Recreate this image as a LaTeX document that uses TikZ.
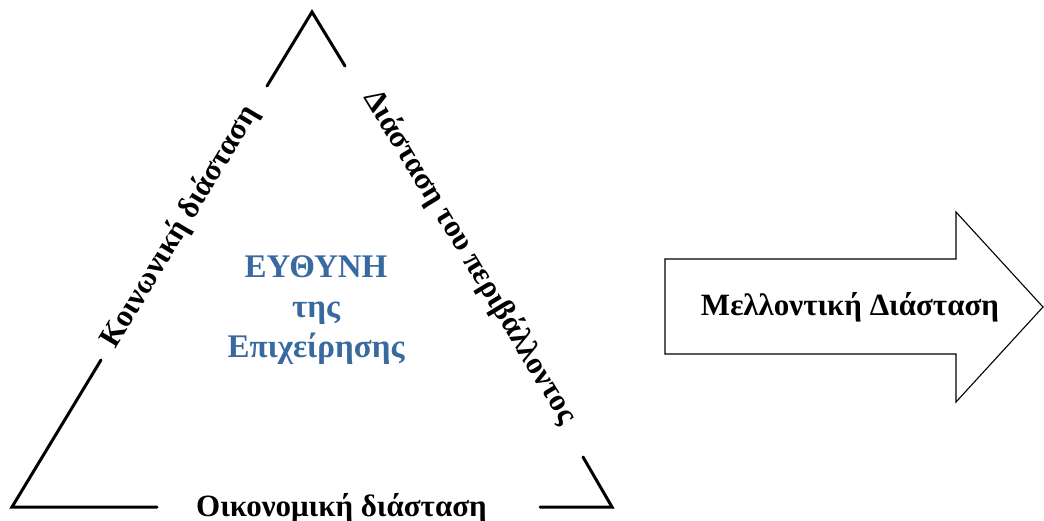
\documentclass[tikz,border=0pt]{standalone}
\usepackage{fontspec}
\setmainfont{Liberation Serif}
\definecolor{blueresp}{RGB}{56,106,160}
\begin{document}
\begin{tikzpicture}[x=1pt,y=1pt,
  side/.style={line width=3pt,line cap=round,line join=miter},
  lbl/.style={font=\fontsize{31}{36}\selectfont\bfseries,inner sep=0pt},
  centre/.style={font=\fontsize{33}{40}\selectfont\bfseries,text=blueresp,align=center,inner sep=0pt},
  arrowshape/.style={draw,line width=1.1pt,line join=miter,fill=white}]
\useasboundingbox (0,0) rectangle (1044,520);
% triangle corners and gap ends
\coordinate (A) at (312,508);
\coordinate (B) at (12,13);
\coordinate (C) at (612,13);
\coordinate (L1) at (267,434);
\coordinate (L2) at (101,160);
\coordinate (R1) at (345,454);
\coordinate (R2) at (583,63);
\coordinate (D1) at (157,13);
\coordinate (D2) at (540,13);
\draw[side] (L1) -- (A) -- (R1);
\draw[side] (L2) -- (B) -- (D1);
\draw[side] (D2) -- (C) -- (R2);
% side labels
\node[lbl,rotate=58.8] (social) at (180,293) {Κοινωνική διάσταση};
\node[lbl,rotate=-58.8] (environ) at (470,263) {Διάσταση του περιβάλλοντος};
\node[lbl,anchor=base] (econ) at (341.5,4) {Οικονομική διάσταση};
% centre text
\node[centre] (resp) at (316,210) {ΕΥΘΥΝΗ\\της\\Επιχείρησης};
% arrow
\draw[arrowshape] (665,261) -- (956,261) -- (956,308) -- (1043,213) -- (956,118) -- (956,166) -- (665,166) -- cycle;
\node[lbl] (future) at (850,213) {Μελλοντική Διάσταση};
\end{tikzpicture}
\end{document}
